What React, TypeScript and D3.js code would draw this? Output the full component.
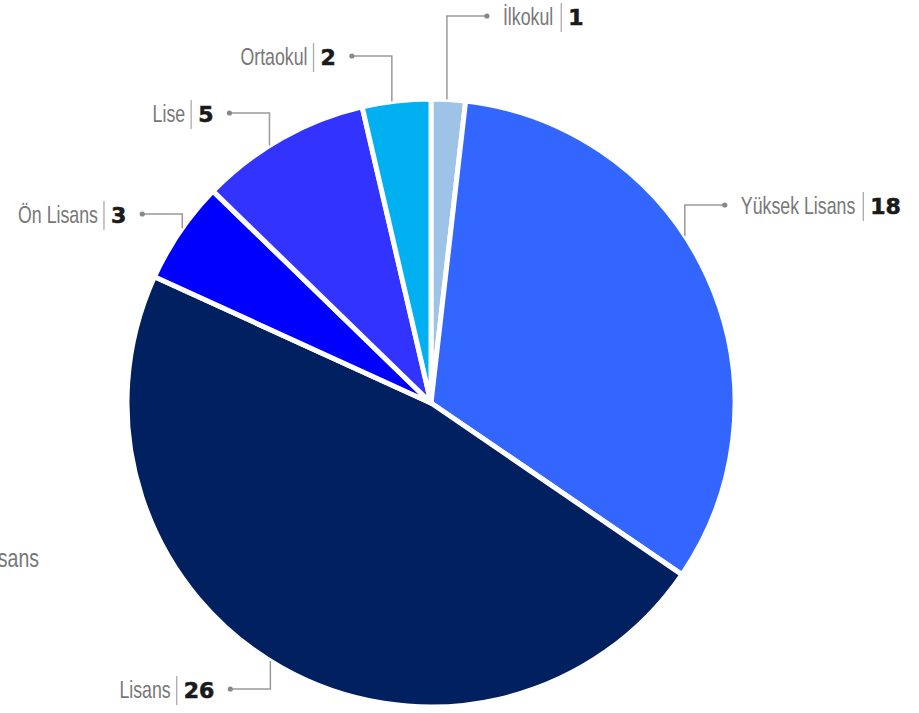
import React, { useEffect, useRef } from "react";
import * as d3 from "d3";

const categories = ["İlkokul", "Yüksek Lisans", "Lisans", "Ön Lisans", "Lise", "Ortaokul"];
const values = [1, 18, 26, 3, 5, 2];
const colors = ["#9dc3e6", "#3366ff", "#00205f", "#0000ff", "#3333ff", "#00b0f0"];
// label layout: leader anchor angle (deg, clockwise from 12 o'clock) and label line y
const labelAngles = [3.0, 56.6, 211.9, 305.1, 327.9, 352.6];
const labelYs = [16, 205, 689, 214, 113, 56];

const W = 919;
const H = 713;
const CX = 431;
const CY = 403;
const R = 304;
const NAME_FONT = "'Liberation Sans', Arial, sans-serif";
const NUM_FONT = "'DejaVu Sans', sans-serif";
const SQUEEZE = 0.74;

export default function App() {
  const ref = useRef<SVGSVGElement | null>(null);

  useEffect(() => {
    const svg = d3.select(ref.current);
    svg.selectAll("*").remove();

    const data = categories.map((c, i) => ({ name: c, value: values[i], color: colors[i] }));
    const pie = d3.pie<any>().sort(null).value((d: any) => d.value);
    const arcs = pie(data);
    const arc = d3.arc<any>().innerRadius(0).outerRadius(R);

    const g = svg.append("g").attr("transform", `translate(${CX},${CY})`);
    g.selectAll("path")
      .data(arcs)
      .join("path")
      .attr("d", arc as any)
      .attr("fill", (d: any) => d.data.color)
      .attr("stroke", "#fff")
      .attr("stroke-width", 5)
      .attr("stroke-linejoin", "round");

    // partially visible label at the left edge
    svg
      .append("text")
      .attr("transform", `translate(39,567) scale(0.78,1)`)
      .attr("text-anchor", "end")
      .attr("font-family", NAME_FONT)
      .attr("font-size", 25)
      .attr("fill", "#777")
      .text("Lisans");

    const labels = svg.append("g");
    data.forEach((d, i) => {
      const a = (labelAngles[i] * Math.PI) / 180;
      const ex = CX + R * Math.sin(a);
      const ey = CY - R * Math.cos(a);
      const ly = labelYs[i];
      const rightSide = ex > CX;
      const dotX = rightSide ? ex + 40 : ex - 40;

      labels
        .append("path")
        .attr("d", `M${ex},${ey}V${ly}H${dotX}`)
        .attr("fill", "none")
        .attr("stroke", "#999")
        .attr("stroke-width", 1.5);
      labels.append("circle").attr("cx", dotX).attr("cy", ly).attr("r", 2.6).attr("fill", "#888");

      const base = ly + 8.5;
      const nameT = labels
        .append("text")
        .attr("font-family", NAME_FONT)
        .attr("font-size", 24)
        .attr("fill", "#777")
        .text(d.name);
      const numT = labels
        .append("text")
        .attr("font-family", NUM_FONT)
        .attr("font-weight", "bold")
        .attr("font-size", 22)
        .attr("fill", "#1a1a1a")
        .attr("stroke", "#1a1a1a")
        .attr("stroke-width", 0.6)
        .text(String(d.value));
      const nameW = (nameT.node() as SVGTextElement).getComputedTextLength() * SQUEEZE;
      const numW = (numT.node() as SVGTextElement).getComputedTextLength();

      let nameStart: number, sepX: number, numStart: number;
      if (rightSide) {
        nameStart = dotX + 16;
        sepX = nameStart + nameW + 8;
        numStart = sepX + 7;
      } else {
        numStart = dotX - 16 - numW;
        sepX = numStart - 7;
        nameStart = sepX - 6 - nameW;
      }
      nameT.attr("transform", `translate(${nameStart},${base}) scale(${SQUEEZE},1)`);
      numT.attr("x", numStart).attr("y", base);
      labels
        .append("line")
        .attr("x1", sepX)
        .attr("x2", sepX)
        .attr("y1", ly - 13)
        .attr("y2", ly + 16)
        .attr("stroke", "#aaa")
        .attr("stroke-width", 1.3);
    });
  }, []);

  return (
    <svg
      ref={ref}
      width={W}
      height={H}
      style={{ position: "absolute", left: 0, top: 0, display: "block", background: "#fff" }}
    />
  );
}
